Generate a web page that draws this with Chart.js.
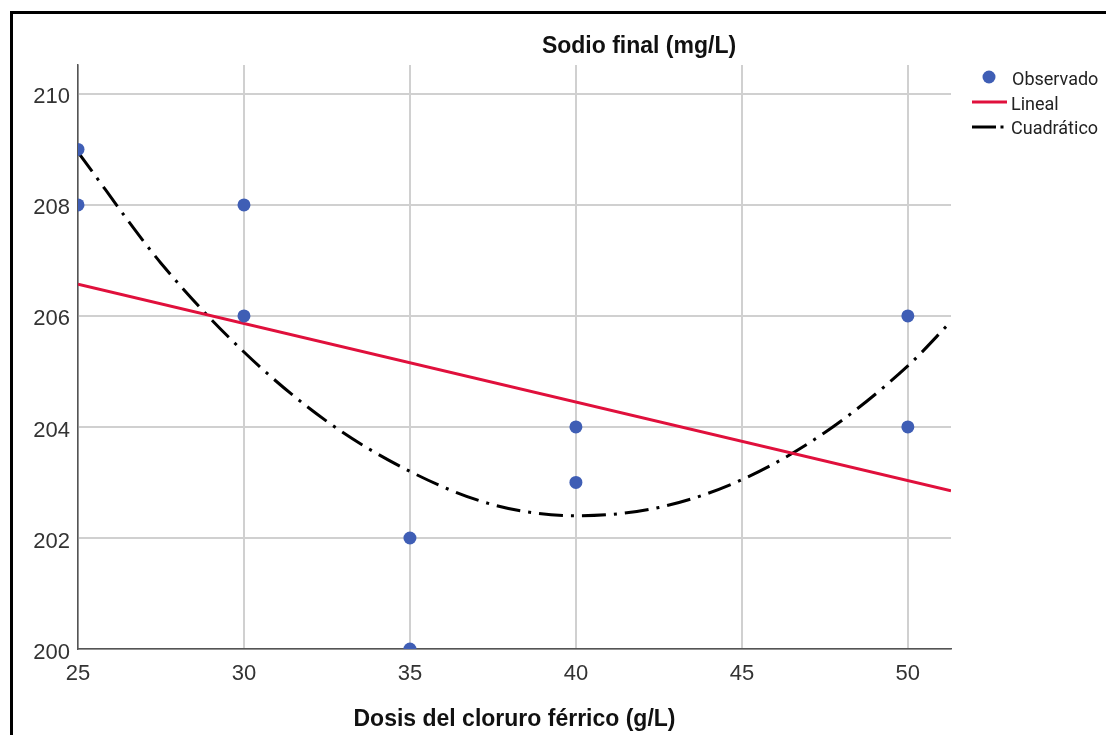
<!DOCTYPE html>
<html>
<head>
<meta charset="utf-8">
<script src="https://cdn.jsdelivr.net/npm/chart.js@4.4.1/dist/chart.umd.min.js"></script>
<style>
  html, body { margin: 0; padding: 0; background: #fff; }
  #wrap { width: 1106px; height: 735px; position: relative; }
</style>
</head>
<body>
<div id="wrap"><canvas id="chart" width="1106" height="735"></canvas></div>
<script>
// Sodio final vs dosis de cloruro férrico (curve estimation)

const obsX = [25, 25, 30, 30, 35, 35, 40, 40, 50, 50];
const obsY = [209, 208, 208, 206, 202, 200, 204, 203, 206, 204];

// fitted lines, values
const linX = [25, 51.3];
const linY = [206.57, 202.85];

const quadX = [25, 27.5, 30, 32.5, 35, 37.5, 40, 42.5, 45, 47.5, 50, 51.3];
const quadY = [208.95, 206.95, 205.35, 204.1, 203.2, 202.6, 202.4, 202.55, 203.05, 203.9, 205.1, 205.9];

const xTicks = [25, 30, 35, 40, 45, 50];
const yTicks = [200, 202, 204, 206, 208, 210];

const blue = '#3f5eb5';
const red = '#e0103c';
const dashDot = [24, 8, 3, 8];
const sans = '"Liberation Sans", Arial, sans-serif';

const toPts = (xs, ys) => xs.map((x, i) => ({ x: x, y: ys[i] }));

const decor = {
    id: 'decor',
    beforeDraw(chart) {
        const c = chart.ctx;
        c.save();
        c.fillStyle = '#fff';
        c.fillRect(0, 0, chart.width, chart.height);
        c.strokeStyle = '#000';
        c.lineWidth = 3;
        c.beginPath();
        c.moveTo(11.5, chart.height + 5);
        c.lineTo(11.5, 12.5);
        c.lineTo(chart.width + 5, 12.5);
        c.stroke();
        c.restore();
    },
    afterDraw(chart) {
        const c = chart.ctx;
        const a = chart.chartArea;
        c.save();
        c.fillStyle = '#111';
        c.textAlign = 'center';
        c.textBaseline = 'middle';
        c.font = 'bold 23px ' + sans;
        c.fillText('Sodio final (mg/L)', 639, 47);
        c.fillText('Dosis del cloruro férrico (g/L)', (a.left + a.right) / 2, 720);

        // legend
        c.textAlign = 'left';
        c.font = '18px Roboto, ' + sans;
        c.beginPath();
        c.arc(989, 77, 6.5, 0, Math.PI * 2);
        c.fillStyle = blue;
        c.fill();
        c.fillStyle = '#222';
        c.fillText('Observado', 1012, 80);
        c.strokeStyle = red;
        c.lineWidth = 3;
        c.beginPath();
        c.moveTo(972, 102);
        c.lineTo(1007, 102);
        c.stroke();
        c.fillText('Lineal', 1011, 105);
        c.strokeStyle = '#000';
        c.beginPath();
        c.moveTo(972, 127);
        c.lineTo(996, 127);
        c.stroke();
        c.fillStyle = '#000';
        c.fillRect(1000.5, 125.5, 3, 3);
        c.fillStyle = '#222';
        c.fillText('Cuadrático', 1011, 129);
        c.restore();
    }
};

new Chart(document.getElementById('chart').getContext('2d'), {
    type: 'scatter',
    data: {
        datasets: [
            {
                label: 'Lineal',
                data: toPts(linX, linY),
                showLine: true,
                borderColor: red,
                borderWidth: 3,
                pointRadius: 0,
                order: 2
            },
            {
                label: 'Cuadrático',
                data: toPts(quadX, quadY),
                showLine: true,
                borderColor: '#000',
                borderWidth: 3,
                borderDash: dashDot,
                cubicInterpolationMode: 'monotone',
                pointRadius: 0,
                order: 3
            },
            {
                label: 'Observado',
                data: toPts(obsX, obsY),
                backgroundColor: blue,
                borderColor: blue,
                pointRadius: 6.5,
                borderWidth: 0,
                order: 1
            }
        ]
    },
    options: {
        responsive: false,
        animation: false,
        layout: { padding: { left: 0, right: 155, top: 65, bottom: 0 } },
        plugins: {
            legend: { display: false },
            tooltip: { enabled: false }
        },
        scales: {
            x: {
                type: 'linear',
                min: 25,
                max: 51.3,
                afterBuildTicks: s => { s.ticks = xTicks.map(v => ({ value: v })); },
                afterFit: s => { s.height = 86; },
                grid: { color: '#d0d0d0', lineWidth: 2, drawTicks: false },
                border: { color: '#555', width: 1.5 },
                ticks: {
                    color: '#333',
                    padding: 12,
                    font: { family: sans, size: 22 }
                }
            },
            y: {
                type: 'linear',
                min: 200,
                max: 210.52,
                afterBuildTicks: s => { s.ticks = yTicks.map(v => ({ value: v })); },
                afterFit: s => { s.width = 78; },
                grid: { color: '#d0d0d0', lineWidth: 2, drawTicks: false },
                border: { color: '#555', width: 1.5 },
                ticks: {
                    color: '#333',
                    padding: 8,
                    labelOffset: 3.5,
                    font: { family: sans, size: 22 }
                }
            }
        }
    },
    plugins: [decor]
});
</script>
</body>
</html>
